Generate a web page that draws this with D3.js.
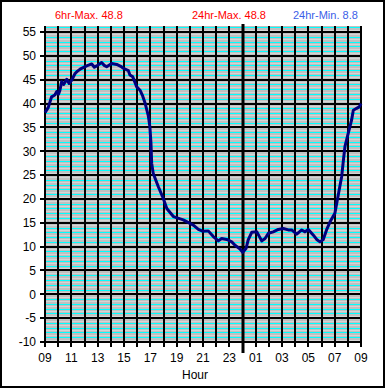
<!DOCTYPE html>
<html>
<head>
<meta charset="utf-8">
<script src="https://cdn.jsdelivr.net/npm/d3@7"></script>
<style>
  html, body { margin: 0; padding: 0; background: #fff; }
  svg { display: block; font-family: "Liberation Sans", Arial, sans-serif; }
</style>
</head>
<body>
<div id="chartContainer"></div>
<script>
// readings, clock time (09:00 one day through 09:00 next day)
const times = [
    "09:00", "09:15", "09:30", "09:45", "09:53", "10:02", "10:08", "10:16", "10:25", "10:39",
    "10:50", "11:02", "11:17", "11:28", "11:40", "12:10", "12:33", "12:45", "12:56", "13:18",
    "13:30", "13:41", "14:04", "14:27", "14:45", "14:57", "15:20", "15:27", "15:40", "15:58",
    "16:13", "16:25", "16:36", "16:51", "16:58", "17:03", "17:06", "17:13", "17:36", "17:59",
    "18:15", "18:45", "19:30", "20:16", "20:39", "21:00", "21:24", "21:47", "22:10", "22:25",
    "22:48", "23:11", "23:26", "23:49", "00:01", "00:16", "00:26", "00:42", "01:05", "01:17",
    "01:28", "01:43", "01:58", "02:20", "02:43", "03:06", "03:29", "03:44", "04:07", "04:30",
    "04:45", "05:00", "05:23", "05:38", "05:53", "06:08", "06:23", "06:39", "07:01", "07:17",
    "07:32", "07:40", "07:47", "08:02", "08:17", "08:25", "08:40", "08:52", "09:00"
];
const temps = [
    38.1, 39.2, 41.4, 41.8, 42.5, 42.0, 42.8, 44.6, 44.0, 45.1,
    44.2, 44.9, 46.3, 46.8, 47.2, 47.9, 48.3, 47.6, 47.9, 48.6,
    48.0, 47.7, 48.4, 48.2, 47.8, 47.4, 46.9, 46.0, 45.6, 43.5,
    42.8, 41.6, 40.1, 37.4, 35.1, 31.6, 27.5, 25.4, 22.6, 20.1,
    18.0, 16.3, 15.6, 14.5, 13.6, 13.2, 13.3, 12.1, 11.2, 11.7,
    11.5, 11.0, 10.3, 9.5, 8.8, 9.6, 11.4, 13.0, 13.1, 12.1,
    11.2, 11.7, 12.8, 13.1, 13.6, 13.8, 13.5, 13.5, 12.6, 13.5,
    13.1, 13.6, 12.4, 11.5, 11.0, 11.5, 13.5, 15.2, 17.0, 21.0,
    24.7, 28.2, 31.0, 33.8, 36.5, 38.6, 39.0, 39.3, 40.0
];

const yTicks = [-10, -5, 0, 5, 10, 15, 20, 25, 30, 35, 40, 45, 50, 55];
const xTickLabels = ["09", "11", "13", "15", "17", "19", "21", "23", "01", "03", "05", "07", "09"];

const headTexts = ["6hr-Max. 48.8", "24hr-Max. 48.8", "24hr-Min. 8.8"];
const headColors = ["#ff0000", "#ff0000", "#3b5ee8"];

const width = 385;
const height = 388;
const plot = { left: 45, right: 361, top: 26, bottom: 342 };

const start = new Date(2000, 0, 1, 9, 0);
const end = new Date(2000, 0, 2, 9, 0);

function toDate(s, i) {
    const [h, m] = s.split(':').map(Number);
    // after midnight, or the final 09:00 reading, is the next day
    const day = (h < 9 || (i === times.length - 1)) ? 2 : 1;
    return new Date(2000, 0, day, h, m);
}

const data = times.map((t, i) => ({ date: toDate(t, i), value: temps[i] }));

const svg = d3.select('#chartContainer')
    .append('svg')
    .attr('width', width)
    .attr('height', height);

svg.append('rect')
    .attr('width', width).attr('height', height)
    .attr('fill', '#fff');

const scX = d3.scaleTime()
    .domain([start, end])
    .range([plot.left, plot.right]);

const scY = d3.scaleLinear()
    .domain([-10, 55])
    .range([plot.bottom, 32]);

const yTop = scY.invert(plot.top);

// plot background
svg.append('rect')
    .attr('x', plot.left).attr('y', plot.top)
    .attr('width', plot.right - plot.left)
    .attr('height', plot.bottom - plot.top)
    .attr('fill', '#c0c0c0');

// minor grid: light lines on half units, cyan on whole units
const halfLines = d3.range(-9.5, yTop, 1);
const unitLines = d3.range(-9, yTop, 1).filter(v => v % 5 !== 0);

svg.append('g')
    .selectAll('line')
    .data(halfLines)
    .join('line')
    .attr('x1', plot.left).attr('x2', plot.right)
    .attr('y1', d => Math.round(scY(d)) + 0.5)
    .attr('y2', d => Math.round(scY(d)) + 0.5)
    .attr('stroke', '#d4d4d4')
    .attr('stroke-width', 1);

svg.append('g')
    .selectAll('line')
    .data(unitLines)
    .join('line')
    .attr('x1', plot.left).attr('x2', plot.right)
    .attr('y1', d => Math.round(scY(d)) + 0.5)
    .attr('y2', d => Math.round(scY(d)) + 0.5)
    .attr('stroke', '#00ffff')
    .attr('stroke-width', 1);

// main grid
const hourTicks = d3.timeHour.range(start, d3.timeMinute.offset(end, 1));

svg.append('g')
    .selectAll('line')
    .data(hourTicks)
    .join('line')
    .attr('x1', d => Math.round(scX(d))).attr('x2', d => Math.round(scX(d)))
    .attr('y1', plot.top).attr('y2', plot.bottom + 5)
    .attr('stroke', '#000')
    .attr('stroke-width', 2);

svg.append('g')
    .selectAll('line')
    .data(yTicks)
    .join('line')
    .attr('x1', plot.left - 5).attr('x2', plot.right)
    .attr('y1', d => Math.round(scY(d))).attr('y2', d => Math.round(scY(d)))
    .attr('stroke', '#000')
    .attr('stroke-width', 2);

// midnight marker
const midnight = new Date(2000, 0, 2, 0, 0);
svg.append('line')
    .attr('x1', Math.round(scX(midnight))).attr('x2', Math.round(scX(midnight)))
    .attr('y1', 24).attr('y2', 353)
    .attr('stroke', '#000')
    .attr('stroke-width', 3);

// y labels
svg.append('g')
    .selectAll('text')
    .data(yTicks)
    .join('text')
    .attr('x', 36)
    .attr('y', d => scY(d))
    .attr('dy', '0.36em')
    .attr('text-anchor', 'end')
    .style('font-size', '12px')
    .text(d => d);

// x labels, every second hour counted from the 09:00 start
const labelDates = hourTicks.filter((d, i) => i % 2 === 0);
svg.append('g')
    .selectAll('text')
    .data(labelDates)
    .join('text')
    .attr('x', d => scX(d))
    .attr('y', 362)
    .attr('text-anchor', 'middle')
    .style('font-size', '12px')
    .text((d, i) => xTickLabels[i]);

svg.append('text')
    .attr('x', 195).attr('y', 379)
    .attr('text-anchor', 'middle')
    .style('font-size', '12px')
    .text('Hour');

// header
const headX = [55, 192, 293];
svg.append('g')
    .selectAll('text')
    .data(headTexts)
    .join('text')
    .attr('x', (d, i) => headX[i])
    .attr('y', 18.5)
    .attr('fill', (d, i) => headColors[i])
    .style('font-size', '11px')
    .text(d => d);

// series
const lineMaker = d3.line()
    .x(d => scX(d.date))
    .y(d => scY(d.value));

svg.append('path')
    .attr('d', lineMaker(data))
    .attr('fill', 'none')
    .attr('stroke', '#000080')
    .attr('stroke-width', 3)
    .attr('stroke-linejoin', 'round');

// outer frame
svg.append('rect')
    .attr('x', 1).attr('y', 1)
    .attr('width', width - 2).attr('height', height - 2)
    .attr('fill', 'none')
    .attr('stroke', '#000')
    .attr('stroke-width', 2);
</script>
</body>
</html>
